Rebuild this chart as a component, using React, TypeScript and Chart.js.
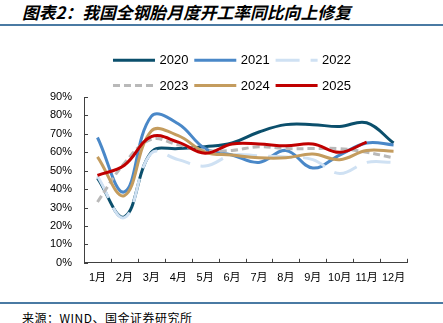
import React, { useEffect, useRef } from 'react';
import { Chart, registerables } from 'chart.js';

Chart.register(...registerables);

// ---- data ----
const months = ['1月', '2月', '3月', '4月', '5月', '6月', '7月', '8月', '9月', '10月', '11月', '12月'];
const years = ['2020', '2021', '2022', '2023', '2024', '2025'];
const rate2020 = [46, 25, 60, 62, 63, 65, 71, 75, 75, 74, 76, 65];
const rate2021 = [68, 38.5, 79.5, 75.5, 62, 58.5, 54.5, 61, 51.5, 58.5, 65, 64];
const rate2022 = [47, 24.5, 59.5, 56, 52.5, 58.5, 58, 57.5, 56, 48.5, 54.5, 54.5];
const rate2023 = [33, 54, 67, 64, 61, 61, 63, 62, 62, 62, 60, 57];
const rate2024 = [57.5, 36.5, 71.5, 69, 60, 58.5, 57, 57, 59, 56, 61, 60.5];
const rate2025 = [47.5, 53, 68.5, 65.5, 59.5, 64.5, 64.5, 63.5, 64.5, 60, 65.5];
const yTickValues = [0, 10, 20, 30, 40, 50, 60, 70, 80, 90];

// ---- styles ----
const seriesData = [rate2020, rate2021, rate2022, rate2023, rate2024, rate2025];
const seriesColors = ['#0b4f6c', '#4a88c8', '#cfe1f3', '#b9b9b9', '#c49c5e', '#c00000'];
const seriesDash: number[][] = [[], [], [24, 11], [7, 4], [], []];
const axisColor = '#404040';
const fontFamily = '"Liberation Sans", Arial, "Noto Sans CJK SC", sans-serif';

const innerTicks = {
  id: 'innerTicks',
  afterDraw(chart: any) {
    const { ctx, chartArea, scales } = chart;
    const x = scales.x;
    const y = scales.y;
    ctx.save();
    ctx.strokeStyle = axisColor;
    ctx.lineWidth = 1;
    ctx.beginPath();
    yTickValues.forEach((v) => {
      const py = Math.round(y.getPixelForValue(v)) + 0.5;
      ctx.moveTo(chartArea.left, py);
      ctx.lineTo(chartArea.left + 4, py);
    });
    for (let i = 0; i <= months.length; i++) {
      const px = Math.round(x.getPixelForValue(i - 0.5)) + 0.5;
      ctx.moveTo(px, chartArea.bottom);
      ctx.lineTo(px, chartArea.bottom - 4);
    }
    ctx.stroke();
    ctx.restore();
  },
};

const customLegend = {
  id: 'customLegend',
  afterDraw(chart: any) {
    const ctx = chart.ctx;
    const datasets = chart.data.datasets;
    const lineLen = 42;
    const gapText = 4.5;
    const step = 81.3;
    const centerX = 232;
    const rowY = [34.3, 59.6];
    ctx.save();
    ctx.font = '13px ' + fontFamily;
    ctx.textBaseline = 'middle';
    ctx.textAlign = 'left';
    const rowW = step * 2 + lineLen + gapText + ctx.measureText('2020').width;
    const x0 = centerX - rowW / 2;
    datasets.forEach((ds: any, i: number) => {
      const col = i % 3;
      const row = Math.floor(i / 3);
      const x = x0 + col * step;
      const yy = rowY[row];
      ctx.beginPath();
      ctx.strokeStyle = ds.borderColor;
      ctx.lineWidth = 3;
      ctx.setLineDash(ds.borderDash || []);
      ctx.moveTo(x, yy);
      ctx.lineTo(x + lineLen, yy);
      ctx.stroke();
      ctx.setLineDash([]);
      ctx.fillStyle = '#000';
      ctx.fillText(ds.label, x + lineLen + gapText, yy + 0.5);
    });
    ctx.restore();
  },
};

export default function App() {
  const ref = useRef<HTMLCanvasElement | null>(null);

  useEffect(() => {
    if (!ref.current) return;
    const chart = new Chart(ref.current, {
      type: 'line',
      data: {
        labels: months,
        datasets: years.map((yr, i) => ({
          label: yr,
          data: seriesData[i],
          borderColor: seriesColors[i],
          backgroundColor: seriesColors[i],
          borderWidth: 3,
          borderDash: seriesDash[i],
          pointRadius: 0,
          pointHoverRadius: 0,
          tension: 0.4,
          fill: false,
          order: years.length - 1 - i,
        })),
      },
      options: {
        responsive: false,
        animation: false,
        layout: { padding: { top: 71, left: 38, right: 36, bottom: 6 } },
        plugins: {
          legend: { display: false },
          title: { display: false },
          tooltip: { enabled: false },
        },
        scales: {
          x: {
            type: 'category',
            offset: true,
            grid: { display: true, drawOnChartArea: false, drawTicks: false, offset: true },
            border: { display: true, color: axisColor, width: 1 },
            ticks: {
              color: '#000',
              font: { size: 11, family: fontFamily },
              padding: 9,
              maxRotation: 0,
              autoSkip: false,
            },
          },
          y: {
            min: 0,
            max: 90,
            grid: { display: true, drawOnChartArea: false, drawTicks: false },
            border: { display: true, color: axisColor, width: 1 },
            ticks: {
              stepSize: 10,
              color: '#000',
              font: { size: 11, family: fontFamily },
              padding: 12,
              callback: (v: any) => v + '%',
            },
          },
        },
      },
      plugins: [innerTicks, customLegend],
    });
    return () => chart.destroy();
  }, []);

  return (
    <div style={{ position: 'absolute', left: 0, top: 0, width: 443, height: 323, background: '#fff', overflow: 'hidden' }}>
      <div
        style={{
          position: 'absolute',
          left: 22,
          top: 0,
          height: 25,
          lineHeight: '25px',
          fontSize: 16.8,
          fontWeight: 'bold',
          fontStyle: 'italic',
          fontFamily: '"Noto Sans CJK SC", sans-serif',
          whiteSpace: 'nowrap',
          color: '#000',
        }}
      >
        图表2：我国全钢胎月度开工率同比向上修复
      </div>
      <div style={{ position: 'absolute', left: 0, top: 24, width: 443, height: 2, background: '#4a7aa3' }} />
      <canvas ref={ref} width={443} height={274} style={{ position: 'absolute', left: 0, top: 26, width: 443, height: 274 }} />
      <div style={{ position: 'absolute', left: 0, top: 302, width: 443, height: 2, background: '#4a7aa3' }} />
      <div
        style={{
          position: 'absolute',
          left: 22,
          top: 309,
          height: 18,
          lineHeight: '18px',
          fontSize: 12,
          letterSpacing: 0.5,
          fontFamily: '"Noto Sans CJK SC", sans-serif',
          whiteSpace: 'nowrap',
          color: '#000',
        }}
      >
        来源：WIND、国金证券研究所
      </div>
    </div>
  );
}
